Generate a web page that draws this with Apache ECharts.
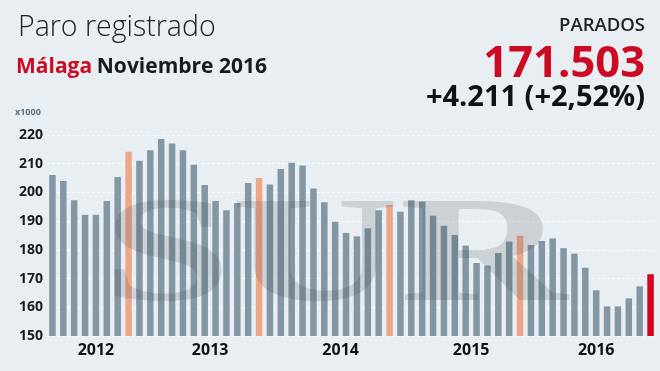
<!DOCTYPE html>
<html>
<head>
<meta charset="utf-8">
<script src="https://cdn.jsdelivr.net/npm/echarts@6/dist/echarts.min.js"></script>
<style>
html,body{margin:0;padding:0;background:#e9eef2;}
#c{width:660px;height:371px;}
</style>
</head>
<body>
<div id="c"></div>
<script>
var months = ["2012-04","2012-05","2012-06","2012-07","2012-08","2012-09","2012-10","2012-11","2012-12",
"2013-01","2013-02","2013-03","2013-04","2013-05","2013-06","2013-07","2013-08","2013-09","2013-10","2013-11","2013-12",
"2014-01","2014-02","2014-03","2014-04","2014-05","2014-06","2014-07","2014-08","2014-09","2014-10","2014-11","2014-12",
"2015-01","2015-02","2015-03","2015-04","2015-05","2015-06","2015-07","2015-08","2015-09","2015-10","2015-11","2015-12",
"2016-01","2016-02","2016-03","2016-04","2016-05","2016-06","2016-07","2016-08","2016-09","2016-10","2016-11"];
var parados = [206.1,204.0,197.3,192.2,192.2,197.0,205.4,214.2,211.0,
214.7,218.6,217.0,214.7,209.6,202.6,197.0,193.8,196.3,203.3,205.0,202.8,
208.2,210.3,209.4,201.4,196.6,189.8,185.9,184.7,187.5,193.8,195.6,193.3,
197.3,196.8,191.9,188.4,185.2,181.5,175.4,174.5,178.9,182.9,184.9,181.7,
183.1,184.0,180.6,178.7,173.8,165.9,160.3,160.3,163.1,167.3,171.5];
var yearLabels = ["2012","2013","2014","2015","2016"];
var yearPositions = [4, 14.5, 26.5, 38.5, 50];
var yTicks = [150,160,170,180,190,200,210,220];

var FONT = "'Open Sans', 'Noto Sans', sans-serif";
var chart = echarts.init(document.getElementById('c'), null, {renderer:'canvas'});
var lastIdx = months.length - 1;

chart.setOption({
  backgroundColor: '#e9eef2',
  animation: false,
  textStyle: {fontFamily: FONT},
  title: [
    {text: 'Paro registrado', left: 13, top: 8,
     textStyle: {fontFamily: FONT, fontSize: 28.5, fontWeight: 300, color: '#222'}},
    {text: '{r|Málaga} {b|Noviembre 2016}', left: 11, top: 52,
     textStyle: {rich: {
       r: {fontFamily: FONT, fontSize: 21, fontWeight: 'bold', color: '#cc0a24'},
       b: {fontFamily: FONT, fontSize: 21, fontWeight: 'bold', color: '#1a1a1a'}
     }}},
    {text: 'PARADOS', right: 10, top: 11,
     textStyle: {fontFamily: FONT, fontSize: 18.5, fontWeight: 600, color: '#222'}},
    {text: '171.503', right: 10, top: 38,
     textStyle: {fontFamily: FONT, fontSize: 43.5, fontWeight: 'bold', color: '#cc0a24'}},
    {text: '+4.211 (+2,52%)', right: 10, top: 78,
     textStyle: {fontFamily: FONT, fontSize: 29, fontWeight: 'bold', color: '#111'}}
  ],
  grid: {left: 47, right: 4, top: 135, bottom: 35, containLabel: false},
  xAxis: [
    {type: 'category', data: months, boundaryGap: true,
     axisLine: {show: false}, axisTick: {show: false}, axisLabel: {show: false}},
    {type: 'value', position: 'bottom', min: -0.5, max: months.length - 0.5,
     axisLine: {show: false}, axisTick: {show: false}, splitLine: {show: false},
     axisLabel: {show: true, customValues: yearPositions, margin: 6,
       fontFamily: FONT, fontSize: 16, fontWeight: 'bold', color: '#111',
       formatter: function (v) {
         for (var i = 0; i < yearPositions.length; i++) {
           if (Math.abs(yearPositions[i] - v) < 0.01) return yearLabels[i];
         }
         return '';
       }}}
  ],
  yAxis: {
    type: 'value', min: yTicks[0], max: yTicks[yTicks.length - 1], interval: 10,
    axisLine: {show: false}, axisTick: {show: false},
    axisLabel: {margin: 4, fontFamily: FONT, fontSize: 14, fontWeight: 'bold', color: '#1a1a1a'},
    splitLine: {show: true, lineStyle: {color: 'rgba(255,255,255,0.75)', type: [3, 2], width: 1}}
  },
  series: [{
    type: 'bar', xAxisIndex: 0, data: parados, barWidth: 6.5,
    itemStyle: {
      color: function (p) {
        if (p.dataIndex === lastIdx) return '#d2041e';
        if (/-11$/.test(months[p.dataIndex])) return '#eea68b';
        return '#8396a4';
      }
    }
  }],
  graphic: [
    {type: 'text', left: 15, top: 108, silent: true,
     style: {text: 'x1000', fontFamily: FONT, fontSize: 9, fontWeight: 'bold', fill: '#5d6e7b'}},
    {type: 'text', x: 102, y: 336, scaleX: 1.55, z: 100, silent: true,
     style: {text: 'SUR', fontFamily: "'Liberation Serif', 'DejaVu Serif', serif", fontSize: 150,
       fontWeight: 'bold', fill: 'rgba(60,66,72,0.17)', verticalAlign: 'bottom', align: 'left'}}
  ]
});
</script>
</body>
</html>
